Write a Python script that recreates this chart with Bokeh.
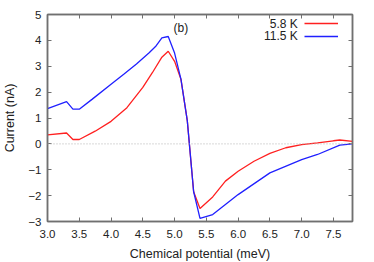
from bokeh.plotting import figure
from bokeh.models import (Range1d, LinearAxis, Span, Label, Legend, LegendItem,
                          FixedTicker, NumeralTickFormatter)
from bokeh.embed import file_html
from bokeh.resources import INLINE

# 5.8 K series
red_x = [3.0, 3.3, 3.4, 3.5, 3.75, 4.0, 4.25, 4.5, 4.65, 4.8, 4.9, 5.0, 5.1, 5.2, 5.3, 5.4,
         5.6, 5.8, 6.0, 6.25, 6.5, 6.75, 7.0, 7.25, 7.5, 7.6, 7.8]
red_y = [0.35, 0.42, 0.17, 0.17, 0.49, 0.87, 1.40, 2.18, 2.75, 3.35, 3.58, 3.19, 2.50,
         0.90, -1.85, -2.50, -2.05, -1.44, -1.06, -0.67, -0.37, -0.15, -0.03, 0.04, 0.12, 0.15, 0.10]

# 11.5 K series
blue_x = [3.0, 3.3, 3.4, 3.5, 3.7, 4.0, 4.2, 4.4, 4.6, 4.7, 4.8, 4.9, 5.0, 5.1, 5.2, 5.3, 5.4,
          5.6, 6.0, 6.5, 7.0, 7.25, 7.6, 7.8]
blue_y = [1.36, 1.63, 1.34, 1.34, 1.72, 2.30, 2.69, 3.09, 3.52, 3.76, 4.10, 4.15, 3.51, 2.50,
          0.90, -1.85, -2.88, -2.73, -1.96, -1.12, -0.61, -0.41, -0.05, 0.0]

series_labels = ["5.8 K", "11.5 K"]
x_ticks = [3.0, 3.5, 4.0, 4.5, 5.0, 5.5, 6.0, 6.5, 7.0, 7.5]
y_ticks = [-3, -2, -1, 0, 1, 2, 3, 4, 5]

FONT = "Liberation Sans"
AX = "#707070"

p = figure(frame_width=305, frame_height=207, output_backend="svg", toolbar_location=None,
           x_range=Range1d(3.0, 7.8), y_range=Range1d(-3, 5),
           min_border_left=38, min_border_right=15, min_border_top=14, min_border_bottom=31)
p.xgrid.visible = False
p.ygrid.visible = False
p.outline_line_color = AX
p.outline_line_width = 1.5
p.background_fill_color = "white"
p.border_fill_color = "white"

for ax in (p.xaxis[0], p.yaxis[0]):
    ax.major_tick_in = 4
    ax.major_tick_out = 0
    ax.minor_tick_line_color = None
    ax.axis_line_color = AX
    ax.axis_line_width = 1.5
    ax.major_tick_line_color = AX
    ax.major_label_text_font = FONT
    ax.major_label_text_font_size = "11.5px"
    ax.major_label_text_color = "#222222"
    ax.axis_label_text_font = FONT
    ax.axis_label_text_font_size = "12.5px"
    ax.axis_label_text_font_style = "normal"
    ax.axis_label_text_color = "#222222"

p.xaxis[0].ticker = FixedTicker(ticks=x_ticks)
p.xaxis[0].formatter = NumeralTickFormatter(format="0.0")
p.xaxis[0].major_label_standoff = 8
p.xaxis[0].axis_label = "Chemical potential (meV)"
p.xaxis[0].axis_label_standoff = 6
p.yaxis[0].ticker = FixedTicker(ticks=y_ticks)
p.yaxis[0].major_label_standoff = 6
p.yaxis[0].axis_label = "Current (nA)"
p.yaxis[0].axis_label_standoff = 8

# mirrored tick axes (ticks only, no labels)
top = LinearAxis(ticker=FixedTicker(ticks=x_ticks))
right = LinearAxis(ticker=FixedTicker(ticks=y_ticks))
for ax in (top, right):
    ax.major_tick_in = 4
    ax.major_tick_out = 0
    ax.minor_tick_line_color = None
    ax.axis_line_color = AX
    ax.axis_line_width = 1.5
    ax.major_tick_line_color = AX
    ax.major_label_text_color = None
    ax.major_label_standoff = 0
p.add_layout(top, "above")
p.add_layout(right, "right")

p.add_layout(Span(location=0, dimension="width", line_color="#b0b0b0",
                  line_dash="1 2", line_width=1))

r_red = p.line(red_x, red_y, line_color="#ff2020", line_width=1.3)
r_blue = p.line(blue_x, blue_y, line_color="#2020ff", line_width=1.3)

legend = Legend(items=[LegendItem(label=" ", renderers=[r_red]),
                       LegendItem(label=" ", renderers=[r_blue])],
                location=(257, 179), orientation="vertical",
                glyph_width=34, glyph_height=12, label_height=12, label_width=0,
                label_standoff=0, spacing=1, padding=0, margin=0,
                border_line_alpha=0, background_fill_alpha=0,
                label_text_color=None)
p.add_layout(legend)

for txt, yy in zip(series_labels, [4.64, 4.16]):
    p.add_layout(Label(x=6.94, y=yy, text=txt, text_align="right", text_baseline="middle",
                       text_font=FONT, text_font_size="12px", text_color="#222222"))

p.add_layout(Label(x=5.1, y=4.49, text="(b)", text_align="center", text_baseline="middle",
                   text_font=FONT, text_font_size="12px", text_color="#222222"))

open("out.html", "w").write(file_html(p, INLINE))
